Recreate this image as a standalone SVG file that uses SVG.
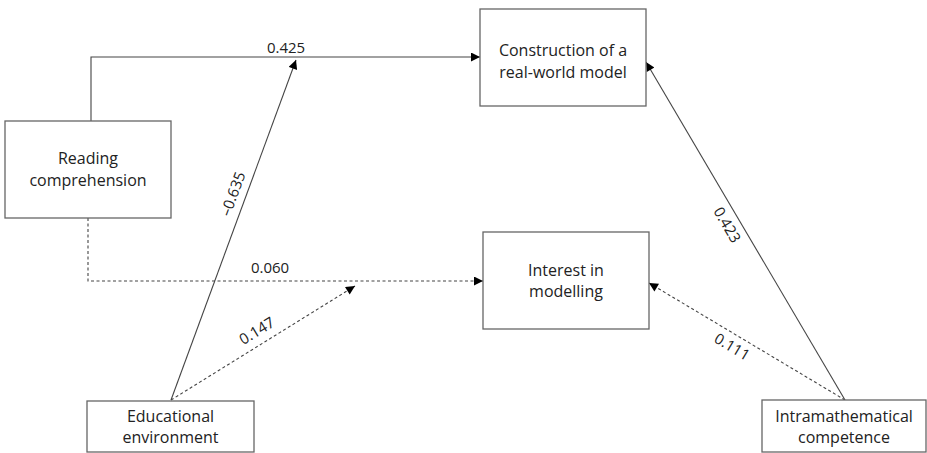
<svg xmlns="http://www.w3.org/2000/svg" width="927" height="453" viewBox="0 0 927 453">
<style>
.box{fill:#fff;stroke:#666;stroke-width:1.3}
.t{font-family:"Open Sans","Liberation Sans",sans-serif;font-size:16px;fill:#222;text-anchor:middle}
.l{font-family:"Open Sans","Liberation Sans",sans-serif;font-size:15px;fill:#222;text-anchor:middle}
.c{fill:none;stroke:#444;stroke-width:1.1}
.d{stroke-dasharray:3,2.5}
</style>
<defs>
<marker id="ah" markerUnits="userSpaceOnUse" viewBox="0 0 10 10" refX="10" refY="5" markerWidth="10" markerHeight="9" orient="auto">
<path d="M0,0 L10,5 L0,10 z" fill="#000"/>
</marker>
</defs>
<rect width="927" height="453" fill="#fff"/>
<g id="connectors">
<path class="c" d="M91,121 V57 H480" marker-end="url(#ah)"/>
<path class="c" d="M171,400 L296,60" marker-end="url(#ah)"/>
<path class="c d" d="M88,218 V281 H483" marker-end="url(#ah)"/>
<path class="c d" d="M171,400 L355,286" marker-end="url(#ah)"/>
<path class="c" d="M845,400 L646,62" marker-end="url(#ah)"/>
<path class="c d" d="M845,400 L649,283" marker-end="url(#ah)"/>
<text class="l" x="286" y="53">0.425</text>
<text class="l" x="270" y="273">0.060</text>
<text class="l" transform="translate(233,194) rotate(-69.8)" y="5">–0.635</text>
<text class="l" transform="translate(257,331) rotate(-31.3)" y="5">0.147</text>
<text class="l" transform="translate(727,225) rotate(59.6)" y="5">0.423</text>
<text class="l" transform="translate(732,347) rotate(31)" y="5">0.111</text>
</g>
<g id="reading">
<rect class="box" x="5" y="121" width="166" height="97"/>
<text class="t" x="88" y="164">Reading</text>
<text class="t" x="88" y="186">comprehension</text>
</g>
<g id="construction">
<rect class="box" x="480" y="9" width="166" height="97"/>
<text class="t" x="563" y="56">Construction of a</text>
<text class="t" x="563" y="78">real-world model</text>
</g>
<g id="interest">
<rect class="box" x="483" y="232" width="166" height="97"/>
<text class="t" x="566" y="276">Interest in</text>
<text class="t" x="566" y="297">modelling</text>
</g>
<g id="educational">
<rect class="box" x="87" y="401" width="167" height="51"/>
<text class="t" x="170.5" y="422">Educational</text>
<text class="t" x="170.5" y="443">environment</text>
</g>
<g id="intramathematical">
<rect class="box" x="762" y="400" width="164" height="52"/>
<text class="t" x="844" y="422">Intramathematical</text>
<text class="t" x="844" y="443">competence</text>
</g>
</svg>
